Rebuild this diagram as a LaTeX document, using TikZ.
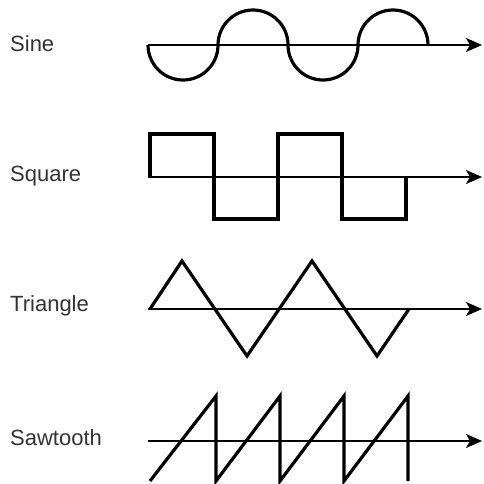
\documentclass[tikz,border=0pt]{standalone}
\usepackage{fontspec}
\setmainfont{Liberation Sans}
\usetikzlibrary{arrows.meta}
\begin{document}
\begin{tikzpicture}[x=1pt,y=-1pt,
  lbl/.style={anchor=west,inner sep=0pt,text=black!80,font=\fontsize{22}{25}\selectfont},
  axis/.style={line width=2pt,-{Stealth[length=16pt,width=14pt,inset=4pt]}},
  wave/.style={line width=3.2pt,line join=miter,line cap=butt}]
\useasboundingbox (0,0) rectangle (483,484);
% labels
\node[lbl] (sine) at (10,44) {Sine};
\node[lbl] (square) at (10,176) {Square};
\node[lbl] (tri) at (10,306) {Triangle};
\node[lbl] (saw) at (10,438) {Sawtooth};
% sine
\draw[axis] (148,45) -- (482,45);
\draw[wave] (148,45) arc[start angle=180,end angle=0,radius=35]
  arc[start angle=180,end angle=360,radius=35]
  arc[start angle=180,end angle=0,radius=35]
  arc[start angle=180,end angle=360,radius=35];
% square
\draw[axis] (148,177) -- (482,177);
\draw[wave] (150,177) -- (150,134) -- (214,134) -- (214,219) -- (278,219) -- (278,134)
  -- (342,134) -- (342,219) -- (406,219) -- (406,177);
% triangle
\draw[axis] (148,309) -- (482,309);
\draw[wave] (150,309) -- (182,261) -- (247,356) -- (312,261) -- (377,356) -- (409,309);
% sawtooth
\draw[axis] (148,441) -- (482,441);
\draw[wave] (150,481) -- (216,396) -- (216,481) -- (280,396) -- (280,481) -- (344,396)
  -- (344,481) -- (408,396) -- (408,481);
\end{tikzpicture}
\end{document}
